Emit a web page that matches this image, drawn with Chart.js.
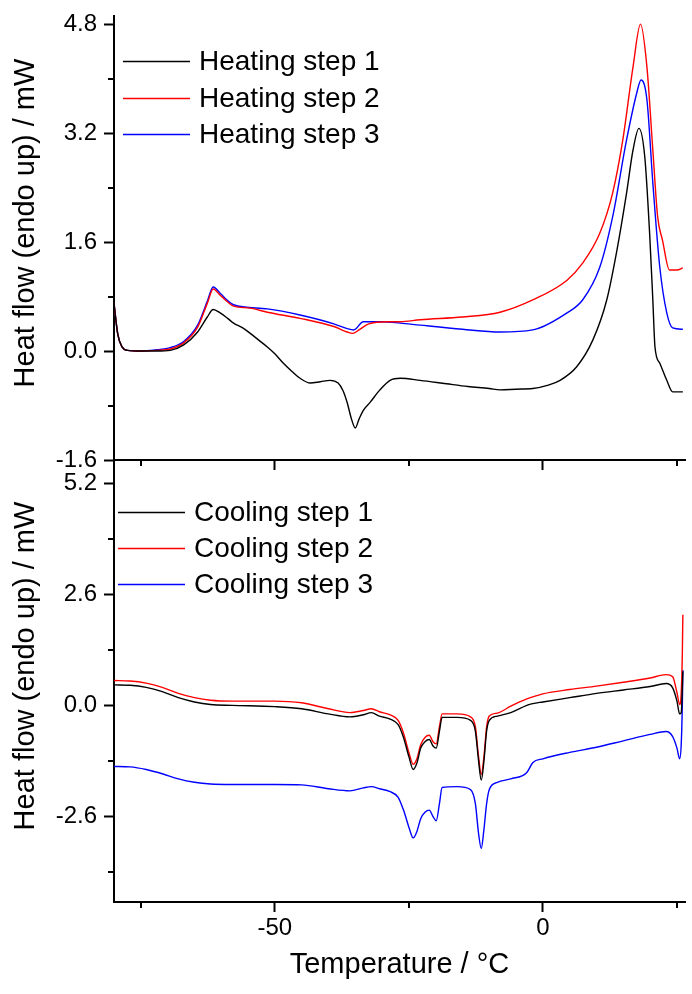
<!DOCTYPE html>
<html><head><meta charset="utf-8">
<script src="https://cdn.jsdelivr.net/npm/chart.js@4.4.1/dist/chart.umd.min.js"></script>
<style>
html,body{margin:0;padding:0;background:#fff;}
#wrap{position:relative;width:692px;height:994px;overflow:hidden;background:#fff;}
#c1{position:absolute;left:0;top:0;}
#c2{position:absolute;left:0;top:440px;}
</style></head><body>
<div id="wrap"><canvas id="c1" width="692" height="480"></canvas><canvas id="c2" width="692" height="554"></canvas></div>
<script>
// ---------- data (temperature in °C, heat flow in mW) ----------
const heat1T = [-80,-79.3,-78.5,-77.5,-75,-72,-69.5,-67,-64.4,-62.6,-61.5,-60.2,-58.8,-57.7,-56,-54.6,-53,-51.4,-50,-48.4,-46.8,-45.3,-43.4,-41.5,-39.7,-38.2,-37.3,-36.5,-35.7,-35.0,-34.3,-33.5,-32.2,-30.4,-28.5,-26.6,-22.9,-18,-14,-10,-8,-5,-1.9,1,3.2,6.3,9.3,11.9,13.8,15.6,16.8,17.9,19.0,19.9,20.5,20.9,21.8,23.1,24.2,26.1];
const heat1V = [0.7,0.25,0.06,0.01,0.0,0.0,0.01,0.09,0.28,0.5,0.61,0.56,0.48,0.41,0.34,0.26,0.16,0.06,-0.04,-0.18,-0.3,-0.40,-0.47,-0.45,-0.43,-0.47,-0.58,-0.76,-1.0,-1.13,-1.0,-0.87,-0.75,-0.57,-0.43,-0.40,-0.43,-0.48,-0.52,-0.55,-0.57,-0.56,-0.55,-0.5,-0.43,-0.23,0.16,0.75,1.48,2.32,2.95,3.27,2.85,1.73,0.75,0.06,-0.18,-0.43,-0.6,-0.6];

const heat2T = [-80,-79.3,-78.5,-77.5,-75,-72,-69.5,-67,-64.4,-62.6,-61.5,-60.2,-58.8,-57.7,-54.6,-51.4,-45.3,-39,-36.5,-35.5,-34.3,-32.5,-29,-26.6,-22.9,-15,-8,-1.9,4.5,7.4,10.6,13.0,14.9,16.8,18.2,19.4,20.5,21.4,22.3,23.6,25.0,26.1];
const heat2V = [0.7,0.25,0.06,0.01,0.0,0.01,0.03,0.12,0.35,0.70,0.91,0.82,0.72,0.66,0.63,0.57,0.48,0.36,0.28,0.26,0.31,0.40,0.43,0.43,0.46,0.50,0.57,0.75,1.04,1.29,1.73,2.32,3.10,4.17,4.80,4.17,2.95,1.97,1.63,1.19,1.19,1.22];

const heat3T = [-80,-79.3,-78.5,-77.5,-75,-72,-69.5,-67,-64.4,-62.6,-61.5,-60.2,-58.8,-57.7,-51.4,-45.3,-39,-36.5,-35.3,-33.5,-30,-26.6,-22.9,-15,-8,-1.9,4.5,7.4,10.6,13.0,15.6,17.5,18.3,19.4,20.5,21.8,23.1,24.2,26.1];
const heat3V = [0.7,0.25,0.06,0.01,0.0,0.02,0.05,0.14,0.38,0.73,0.94,0.85,0.74,0.68,0.62,0.53,0.40,0.33,0.31,0.43,0.43,0.41,0.38,0.32,0.28,0.31,0.56,0.75,1.23,1.97,3.10,3.79,3.98,3.69,2.47,1.23,0.56,0.34,0.32];

const coolT = [-80,-77,-74,-71,-68,-65,-62,-58,-50,-45,-40,-36,-33.5,-32,-30.5,-28.5,-27,-26,-25,-24.2,-23.5,-22.8,-22,-21.2,-20.5,-19.9,-19.3,-18.8,-16,-13.5,-12.6,-12.0,-11.5,-11.0,-10.5,-10,-8.5,-6,-3,-1.9,0,5,10,15,20,23,24.2,25.0,25.5,25.8,26.0,26.1];
const cool1V = [0.48,0.47,0.42,0.32,0.18,0.08,0.02,0.0,-0.03,-0.08,-0.2,-0.27,-0.22,-0.17,-0.25,-0.32,-0.45,-0.75,-1.2,-1.5,-1.35,-1.0,-0.85,-0.8,-0.95,-1.0,-0.6,-0.28,-0.28,-0.35,-0.6,-1.3,-1.75,-1.3,-0.6,-0.35,-0.25,-0.17,0.0,0.04,0.08,0.18,0.28,0.36,0.44,0.51,0.41,0.1,-0.2,-0.17,0.4,0.8];
const cool2V = [0.58,0.57,0.52,0.42,0.28,0.18,0.12,0.1,0.1,0.06,-0.08,-0.17,-0.12,-0.08,-0.15,-0.22,-0.35,-0.65,-1.1,-1.38,-1.25,-0.92,-0.75,-0.7,-0.85,-0.9,-0.5,-0.2,-0.2,-0.27,-0.5,-1.2,-1.62,-1.2,-0.5,-0.25,-0.18,-0.02,0.15,0.2,0.27,0.37,0.45,0.54,0.64,0.72,0.67,0.3,0.02,0.3,1.2,2.12];
const cool3V = [-1.43,-1.44,-1.5,-1.6,-1.72,-1.8,-1.84,-1.85,-1.85,-1.86,-1.95,-2.0,-1.93,-1.9,-1.95,-2.02,-2.15,-2.45,-2.85,-3.1,-2.95,-2.65,-2.5,-2.45,-2.6,-2.7,-2.3,-1.92,-1.9,-1.97,-2.3,-3.0,-3.35,-2.9,-2.3,-1.97,-1.8,-1.72,-1.57,-1.34,-1.25,-1.1,-0.98,-0.83,-0.68,-0.61,-0.73,-1.0,-1.25,-0.9,0.0,0.83];

const heatLabels = ['Heating step 1','Heating step 2','Heating step 3'];
const coolLabels = ['Cooling step 1','Cooling step 2','Cooling step 3'];

const xMajorTicks = [-50, 0];
const xMinorTicks = [-75, -25, 25];
const topMajorTicks = [-1.6, 0, 1.6, 3.2, 4.8];
const topMinorTicks = [-0.8, 0.8, 2.4, 4.0];
const botMajorTicks = [-2.6, 0, 2.6, 5.2];
const botMinorTicks = [-3.9, -1.3, 1.3, 3.9];

const yTitleText = 'Heat flow (endo up) / mW';
const xTitleText = 'Temperature / °C';

// ---------- styling ----------
const FONT = "'Liberation Sans', Arial, sans-serif";
const COLORS = ['#000000', '#ff0000', '#0000ff'];

function pts(T, V) { return T.map((t, i) => ({x: t, y: V[i]})); }

const minorTicks = {
  id: 'minorTicks',
  afterDraw(chart, args, opts) {
    const ctx = chart.ctx, a = chart.chartArea, xs = chart.scales.x, ys = chart.scales.y;
    ctx.save();
    ctx.strokeStyle = '#000'; ctx.lineWidth = 2;
    ctx.beginPath();
    (opts.x || []).forEach(v => { const p = Math.round(xs.getPixelForValue(v)); ctx.moveTo(p, a.bottom); ctx.lineTo(p, a.bottom + 6); });
    (opts.y || []).forEach(v => { const p = Math.round(ys.getPixelForValue(v)); ctx.moveTo(a.left, p); ctx.lineTo(a.left - 6, p); });
    ctx.stroke();
    ctx.restore();
  }
};

// vertical axis title, placed slightly above the plot centre as in the original
const yTitle = {
  id: 'yTitle',
  afterDraw(chart, args, opts) {
    const ctx = chart.ctx, a = chart.chartArea;
    ctx.save();
    ctx.translate(opts.x, (a.top + a.bottom) / 2 + opts.shift);
    ctx.rotate(-Math.PI / 2);
    ctx.font = opts.size + 'px ' + FONT;
    ctx.fillStyle = '#000';
    ctx.textAlign = 'center';
    ctx.textBaseline = 'middle';
    ctx.fillText(opts.text, 0, 0);
    ctx.restore();
  }
};

const lineLegend = {
  id: 'lineLegend',
  afterDatasetsDraw(chart, args, opts) {
    const ctx = chart.ctx, a = chart.chartArea;
    ctx.save();
    ctx.font = opts.size + 'px ' + FONT;
    ctx.textBaseline = 'middle';
    ctx.textAlign = 'left';
    chart.data.datasets.forEach((ds, i) => {
      const y = Math.round(a.top + opts.dy + i * opts.gap) + 0.5;
      const x0 = a.left + opts.dx;
      ctx.strokeStyle = ds.borderColor; ctx.lineWidth = 1.3;
      ctx.beginPath(); ctx.moveTo(x0, y); ctx.lineTo(x0 + opts.len, y); ctx.stroke();
      ctx.fillStyle = '#000';
      ctx.fillText(ds.label, x0 + opts.len + 9, y + 1);
    });
    ctx.restore();
  }
};

function makeChart(id, datasets, cfg) {
  return new Chart(document.getElementById(id), {
    type: 'line',
    data: { datasets },
    plugins: [minorTicks, lineLegend, yTitle],
    options: {
      responsive: false,
      animation: false,
      events: [],
      layout: { padding: { top: cfg.padTop, right: 7, left: 0, bottom: 0 } },
      elements: {
        point: { radius: 0 },
        line: { borderWidth: 1.4, cubicInterpolationMode: 'monotone', fill: false }
      },
      plugins: {
        legend: { display: false },
        tooltip: { enabled: false },
        minorTicks: { x: xMinorTicks, y: cfg.yMinor },
        lineLegend: cfg.legend,
        yTitle: { text: yTitleText, x: 26, shift: -15, size: 29 }
      },
      scales: {
        x: {
          type: 'linear', min: -80, max: 26.5,
          afterBuildTicks: s => { s.ticks = xMajorTicks.map(v => ({value: v})); },
          afterFit: s => { s.height = cfg.xHeight; s.paddingLeft = 0; s.paddingRight = 0; },
          ticks: { display: true, color: '#000', font: { family: FONT, size: 24 }, padding: 2, maxRotation: 0,
                   callback: v => cfg.showX ? String(v) : '' },
          grid: { drawOnChartArea: false, drawTicks: true, tickLength: 10, tickWidth: 2, tickColor: '#000' },
          border: { display: true, color: '#000', width: 2 },
          title: { display: cfg.showX, text: xTitleText, color: '#000', font: { family: FONT, size: 29 }, padding: { top: 0, bottom: 12 } }
        },
        y: {
          type: 'linear', min: cfg.yMin, max: cfg.yMax,
          afterBuildTicks: s => { s.ticks = cfg.yMajor.map(v => ({value: v})); },
          afterFit: s => { s.width = 114; s.paddingTop = 0; s.paddingBottom = 0; },
          ticks: { color: '#000', font: { family: FONT, size: 24 }, padding: 7, callback: v => Number(v).toFixed(1) },
          grid: { drawOnChartArea: false, drawTicks: true, tickLength: 10, tickWidth: 2, tickColor: '#000' },
          border: { display: true, color: '#000', width: 2 },
          title: { display: false }
        }
      }
    }
  });
}

const heatSets = [
  { label: heatLabels[0], data: pts(heat1T, heat1V), borderColor: COLORS[0] },
  { label: heatLabels[1], data: pts(heat2T, heat2V), borderColor: COLORS[1] },
  { label: heatLabels[2], data: pts(heat3T, heat3V), borderColor: COLORS[2] }
];
const coolSets = [
  { label: coolLabels[0], data: pts(coolT, cool1V), borderColor: COLORS[0] },
  { label: coolLabels[1], data: pts(coolT, cool2V), borderColor: COLORS[1] },
  { label: coolLabels[2], data: pts(coolT, cool3V), borderColor: COLORS[2] }
];

makeChart('c1', heatSets, {
  padTop: 16, xHeight: 20, showX: false,
  yMin: -1.6, yMax: 4.92, yMajor: topMajorTicks, yMinor: topMinorTicks,
  legend: { dx: 9, dy: 45, gap: 36.5, len: 67, size: 28 }
});
makeChart('c2', coolSets, {
  padTop: 20, xHeight: 92, showX: true,
  yMin: -4.6, yMax: 5.74, yMajor: botMajorTicks, yMinor: botMinorTicks,
  legend: { dx: 4, dy: 52, gap: 36, len: 67, size: 28 }
});
</script>
</body></html>
